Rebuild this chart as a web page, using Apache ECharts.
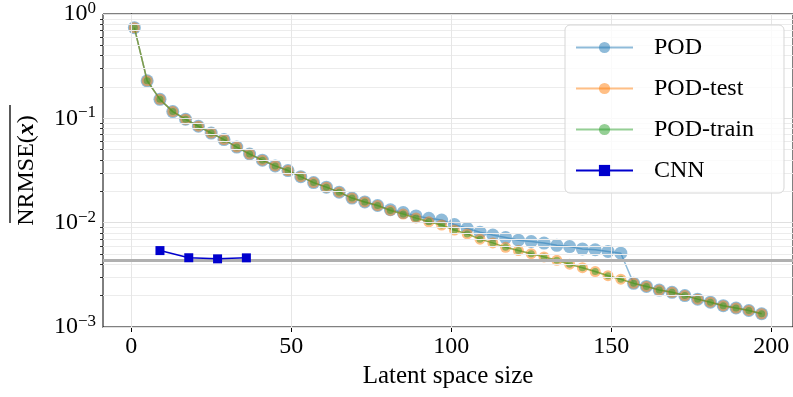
<!DOCTYPE html>
<html>
<head>
<meta charset="utf-8">
<script src="https://cdn.jsdelivr.net/npm/echarts@6/dist/echarts.min.js"></script>
<style>html,body{margin:0;padding:0;background:#fff}#c{width:793px;height:397px}</style>
</head>
<body>
<div id="c"></div>
<script>
const latentSizes = [1,5,9,13,17,21,25,29,33,37,41,45,49,53,57,61,65,69,73,77,81,85,89,93,97,101,105,109,113,117,121,125,129,133,137,141,145,149,153,157,161,165,169,173,177,181,185,189,193,197];
const podValues = [0.74,0.229,0.152,0.116,0.098,0.084,0.0723,0.0626,0.053,0.0455,0.0397,0.035,0.0316,0.0276,0.0242,0.0219,0.0196,0.0172,0.0158,0.0146,0.0133,0.0125,0.0116,0.011,0.0106,0.0096,0.0088,0.0081,0.0076,0.0072,0.0068,0.0066,0.00638,0.00606,0.0059,0.0056,0.0055,0.0053,0.0051,0.00262,0.00245,0.00226,0.00215,0.002,0.00185,0.00173,0.0016,0.00152,0.00144,0.00134];
const podTestValues = [0.74,0.229,0.152,0.116,0.098,0.084,0.0723,0.0626,0.053,0.0455,0.0397,0.035,0.0316,0.0276,0.0242,0.0219,0.0196,0.0172,0.0158,0.0146,0.0131,0.0121,0.0111,0.0102,0.0095,0.0085,0.0078,0.00695,0.0064,0.0058,0.0054,0.00504,0.0047,0.00436,0.004,0.0037,0.0034,0.0031,0.00287,0.00262,0.00245,0.00226,0.00215,0.002,0.00185,0.00173,0.0016,0.00152,0.00144,0.00134];
const podTrainValues = [0.74,0.229,0.152,0.116,0.098,0.084,0.0723,0.0626,0.053,0.0455,0.0397,0.035,0.0316,0.0276,0.0242,0.0219,0.0196,0.0172,0.0158,0.0146,0.0131,0.0121,0.0111,0.0102,0.0095,0.0085,0.0078,0.00695,0.0064,0.0058,0.0054,0.00504,0.0047,0.00436,0.004,0.0037,0.0034,0.0031,0.00287,0.00262,0.00245,0.00226,0.00215,0.002,0.00185,0.00173,0.0016,0.00152,0.00144,0.00134];
const cnnSizes = [9,18,27,36];
const cnnValues = [0.0054,0.00461,0.0045,0.0046];
const referenceLevel = 0.00432;
const xTicks = [0,50,100,150,200];
const yTicks = [0.001,0.01,0.1,1];
const yMinorGrid = [0.002,0.003,0.004,0.005,0.006,0.007,0.008,0.009,0.02,0.03,0.04,0.05,0.06,0.07,0.08,0.09,0.2,0.3,0.4,0.5,0.6,0.7,0.8,0.9];

const FONT = '"Liberation Serif", "DejaVu Serif", serif';
const pairs = (xs, ys) => xs.map((x, i) => [x, ys[i]]);

const chart = echarts.init(document.getElementById('c'), null, {renderer: 'canvas'});
const option = {
  animation: false,
  textStyle: {fontFamily: FONT},
  grid: {left: 103, right: -4, top: 10, bottom: 70, show: true, borderColor: '#000', borderWidth: 1, backgroundColor: 'transparent'},
  xAxis: {
    type: 'value', min: -8.8, max: 206.8,
    name: 'Latent space size', nameLocation: 'middle', nameGap: 36,
    nameTextStyle: {fontFamily: FONT, fontSize: 25, color: '#000'},
    axisLine: {show: true, lineStyle: {color: '#000', width: 1}},
    axisTick: {show: true, length: 5, lineStyle: {color: '#000'}, customValues: xTicks},
    axisLabel: {fontFamily: FONT, fontSize: 24, color: '#000', margin: 8, customValues: xTicks},
    splitLine: {show: false}
  },
  yAxis: [{
    type: 'log', logBase: 10, min: 0.001, max: 1,
    name: 'NRMSE({bx|x})', nameLocation: 'middle', nameGap: 64, nameRotate: 90,
    nameTextStyle: {fontFamily: FONT, fontSize: 24, color: '#000', rich: {bx: {fontFamily: FONT, fontSize: 24, fontWeight: 'bold', fontStyle: 'italic', color: '#000'}}},
    axisLine: {show: true, lineStyle: {color: '#000', width: 1}},
    axisTick: {show: true, length: 5, lineStyle: {color: '#000'}, customValues: yTicks},
    axisLabel: {
      margin: 7, customValues: yTicks,
      formatter: function (v) {
        const e = Math.round(Math.log10(v));
        return '{b|10}{s|' + (e < 0 ? '\u2212' + (-e) : e) + '}';
      },
      rich: {
        b: {fontFamily: FONT, fontSize: 24, color: '#000', lineHeight: 28},
        s: {fontFamily: FONT, fontSize: 17, color: '#000', lineHeight: 15, verticalAlign: 'top'}
      }
    },
    splitLine: {show: false},
    minorTick: {show: false}
  }, {
    type: 'log', logBase: 10, min: 0.001, max: 1, position: 'left', offset: 0,
    axisLine: {show: false},
    axisTick: {show: true, length: 3, lineStyle: {color: '#000', width: 0.8}, customValues: yMinorGrid},
    axisLabel: {show: false},
    splitLine: {show: false}
  }],
  legend: {
    data: ['POD', 'POD-test', 'POD-train', 'CNN'],
    orient: 'vertical', left: 565, top: 25, z: 50,
    itemWidth: 57, itemHeight: 14, itemGap: 16,
    padding: [10, 30, 10, 10],
    backgroundColor: 'rgba(255,255,255,0.8)', borderColor: '#d6d6d6', borderWidth: 1, borderRadius: 5,
    textStyle: {fontFamily: FONT, fontSize: 24, lineHeight: 25, color: '#000', padding: [0, 0, 0, 16]}
  },
  graphic: [{
    type: 'line', shape: {x1: 10, y1: 105, x2: 10, y2: 223},
    style: {stroke: '#000', lineWidth: 1.3}, z: 100
  }],
  series: [
    {
      name: 'gridlines', type: 'line', data: [], silent: true, z: 0,
      markLine: {
        silent: true, symbol: 'none', label: {show: false}, animation: false, precision: 10,
        data: [].concat(
          yMinorGrid.map(v => ({yAxis: v, lineStyle: {color: '#ececec', width: 1, type: 'solid'}})),
          yTicks.map(v => ({yAxis: v, lineStyle: {color: '#e0e0e0', width: 1, type: 'solid'}})),
          xTicks.map(v => ({xAxis: v, lineStyle: {color: '#e6e6e6', width: 1, type: 'solid'}})),
          [{yAxis: referenceLevel, lineStyle: {color: '#b0b0b0', width: 3, type: 'solid'}}]
        )
      }
    },
    {
      name: 'POD', type: 'line', data: pairs(latentSizes, podValues), z: 2,
      symbol: 'circle', symbolSize: 13,
      lineStyle: {color: '#1f77b4', width: 1.5, opacity: 0.5},
      itemStyle: {color: '#1f77b4', opacity: 0.5, borderWidth: 0}
    },
    {
      name: 'POD-test', type: 'line', data: pairs(latentSizes, podTestValues), z: 3,
      symbol: 'circle', symbolSize: 11,
      lineStyle: {color: '#ff7f0e', width: 1.5, opacity: 0.5},
      itemStyle: {color: '#ff7f0e', opacity: 0.5, borderWidth: 0}
    },
    {
      name: 'POD-train', type: 'line', data: pairs(latentSizes, podTrainValues), z: 4,
      symbol: 'circle', symbolSize: 7,
      lineStyle: {color: '#2ca02c', width: 1.5, opacity: 0.5},
      itemStyle: {color: '#2ca02c', opacity: 0.5, borderWidth: 0}
    },
    {
      name: 'CNN', type: 'line', data: pairs(cnnSizes, cnnValues), z: 5,
      symbol: 'rect', symbolSize: 9,
      lineStyle: {color: '#0000cd', width: 1.5},
      itemStyle: {color: '#0000cd', borderWidth: 0}
    }
  ]
};
chart.setOption(option);
</script>
</body>
</html>
